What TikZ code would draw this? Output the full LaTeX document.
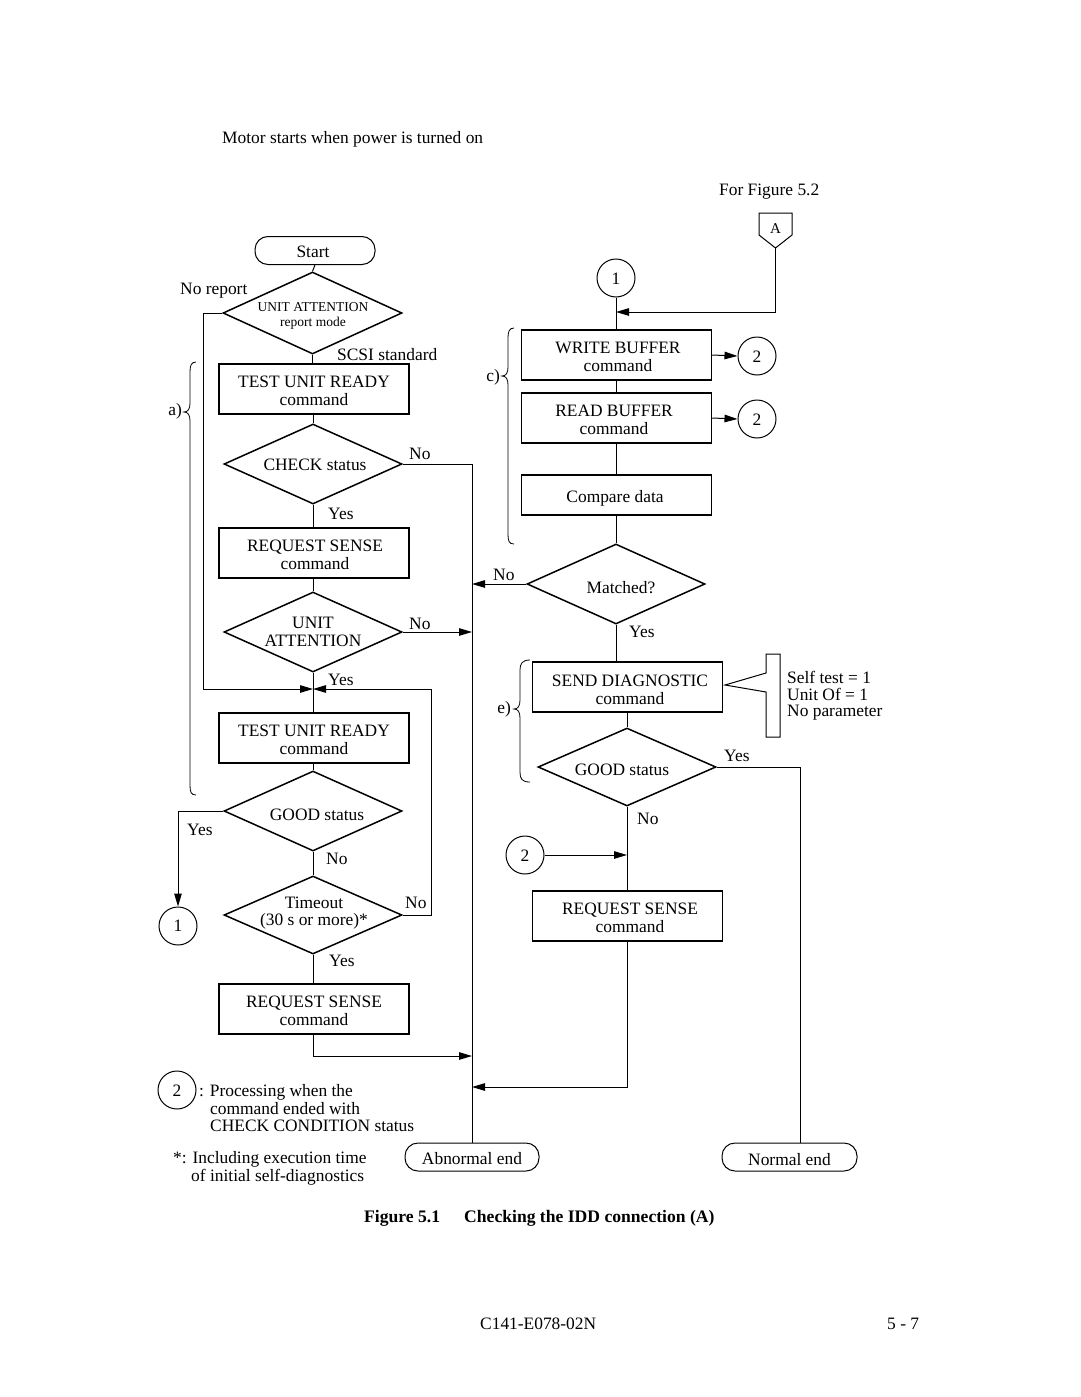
\documentclass[tikz,border=0pt]{standalone}
\usepackage{fontspec}
\setmainfont{Liberation Serif}
\usetikzlibrary{shapes.geometric,arrows.meta}
\begin{document}
\begin{tikzpicture}[x=1pt,y=-1pt,
  font=\fontsize{17.4}{17.5}\selectfont,
  box/.style={draw,line width=1.5pt,minimum width=190pt,minimum height=50pt,inner sep=0pt,align=center},
  dia/.style={draw,diamond,line width=1.5pt,minimum width=178pt,minimum height=80pt,inner sep=0pt},
  term/.style={draw,rounded corners=13pt,line width=1pt,minimum height=28pt,inner sep=0pt},
  circ/.style={draw,circle,line width=1pt,minimum size=38pt,inner sep=0pt},
  ln/.style={line width=1pt},
  brace/.style={line width=0.8pt},
  arr/.style={line width=1pt,-{Triangle[length=13pt,width=7.5pt]}},
  lab/.style={inner sep=0pt,anchor=west},
  dtext/.style={inner sep=0pt,align=center}
]
\useasboundingbox (0,0) rectangle (1080,1397);

% header texts
\node[lab] (hdr) at (222,139.5) {Motor starts when power is turned on};
\node[lab] (forfig) at (719,192) {For Figure 5.2};

% ---------- left column ----------
\node[term,minimum width=120pt] (start) at (315,250.5) {};
\node[dtext] (startt) at (313,252) {Start};
\node[dia,minimum width=179pt,minimum height=82pt] (ua) at (312.5,313) {};
\node[dtext,font=\fontsize{13.5}{14.5}\selectfont] (uat) at (313,316) {UNIT ATTENTION\\report mode};
\node[box] (tur1) at (314,389) {};
\node[dtext] (tur1t) at (314,391) {TEST UNIT READY\\command};
\node[dia] (chk) at (313,464) {};
\node[dtext] (chkt) at (315,465) {CHECK status};
\node[box] (rs1) at (314,553) {};
\node[dtext] (rs1t) at (315,555) {REQUEST SENSE\\command};
\node[dia] (ua2) at (313,632) {};
\node[dtext] (ua2t) at (313,632) {UNIT\\ATTENTION};
\coordinate (j1) at (313,689);
\node[box] (tur2) at (314,738) {};
\node[dtext] (tur2t) at (314,740) {TEST UNIT READY\\command};
\node[dia] (good1) at (313,811) {};
\node[dtext] (good1t) at (317,815) {GOOD status};
\node[dia,minimum height=78pt] (to) at (313,915) {};
\node[dtext] (tot) at (314,913) {Timeout\\(30 s or more)*};
\node[box] (rs3) at (314,1009) {};
\node[dtext] (rs3t) at (314,1011) {REQUEST SENSE\\command};
\node[circ] (c1L) at (178,926) {1};

\node[term,minimum width=134pt] (abn) at (472,1157) {};
\node[dtext] (abnt) at (472,1159) {Abnormal end};
\coordinate (cA) at (472,632);
\coordinate (cB) at (472,584);
\coordinate (cC) at (472,1056);
\coordinate (cD) at (472,1087);

% left connectors
\draw[ln] (start.south) -- (ua.north);
\draw[ln] (ua.south) -- (ua.south |- tur1.north);
\draw[arr] (ua.west) -- ++(-19,0) |- (j1);
\draw[ln] (tur1.south -| chk.north) -- (chk.north);
\draw[ln] (chk.east) -| (abn.north);
\draw[ln] (chk.south) -- (chk.south |- rs1.north);
\draw[ln] (rs1.south -| ua2.north) -- (ua2.north);
\draw[arr] (ua2.east) -- (cA);
\draw[ln] (ua2.south) -- (ua2.south |- tur2.north);
\draw[ln] (tur2.south -| good1.north) -- (good1.north);
\draw[arr] (good1.west) -| (c1L.north);
\draw[ln] (good1.south) -- (to.north);
\draw[arr] (to.east) -- ++(29,0) |- (j1);
\draw[ln] (to.south) -- (to.south |- rs3.north);
\draw[arr] (rs3.south -| to.south) |- (cC);

% left labels
\node[lab] (l1) at (180,291) {No report};
\node[lab] (l2) at (337,355) {SCSI standard};
\node[lab] (l3) at (409,454) {No};
\node[lab] (l4) at (328,514) {Yes};
\node[lab] (l5) at (409,624) {No};
\node[lab] (l6) at (328,680) {Yes};
\node[lab] (l7) at (187,830) {Yes};
\node[lab] (l8) at (326,859) {No};
\node[lab] (l9) at (405,903) {No};
\node[lab] (l10) at (329,961) {Yes};

% a) brace
\draw[brace] (196,362) .. controls (191,362) and (190,366) .. (190,372) -- (190,403)
  .. controls (190,409) and (188,412) .. (184,412)
  .. controls (188,412) and (190,415) .. (190,421) -- (190,785)
  .. controls (190,792) and (191,795) .. (196,795);
\node[inner sep=0pt,anchor=east] (la) at (182,411) {a)};

% ---------- right column ----------
\draw[ln] (759,213) -- (792,213) -- (792,235) -- (775.5,248) -- (759,235) -- cycle;
\coordinate (Atip) at (775.5,248);
\node[inner sep=0pt,font=\fontsize{15}{15}\selectfont] (At) at (775.5,229) {A};
\coordinate (j2) at (616,312);
\node[circ] (c1R) at (616,278) {};
\node[dtext] (c1Rt) at (616,279) {1};
\node[box] (wb) at (616.5,355) {};
\node[dtext] (wbt) at (618,357) {WRITE BUFFER\\command};
\node[circ] (c2a) at (757,356) {};
\node[dtext] (c2at) at (757,357) {2};
\node[box] (rb) at (616.5,418) {};
\node[dtext] (rbt) at (614,420) {READ BUFFER\\command};
\node[circ] (c2b) at (757,419) {};
\node[dtext] (c2bt) at (757,420) {2};
\node[box,minimum height=40pt] (cmp) at (616.5,495) {};
\node[dtext] (cmpt) at (615,498) {Compare data};
\node[dia] (match) at (616,584) {};
\node[dtext] (matcht) at (621,588) {Matched?};
\node[box] (sd) at (627.5,687) {};
\node[dtext] (sdt) at (630,690) {SEND DIAGNOSTIC\\command};
\node[dia,minimum height=78pt] (good2) at (627,767) {};
\node[dtext] (good2t) at (622,770) {GOOD status};
\node[circ] (c2c) at (525,855) {};
\node[dtext] (c2ct) at (525,856) {2};
\node[box] (rs2) at (627.5,916) {};
\node[dtext] (rs2t) at (630,918) {REQUEST SENSE\\command};
\node[term,minimum width=135pt] (nrm) at (789.5,1157) {};
\node[dtext] (nrmt) at (789.5,1160) {Normal end};
\coordinate (j3) at (627,855);

\draw[arr] (Atip) |- (j2);
\draw[ln] (c1R.south) -- (c1R.south |- wb.north);
\draw[arr] (wb.east) -- (c2a.west);
\draw[arr] (rb.east) -- (c2b.west);
\draw[ln] (wb.south) -- (rb.north);
\draw[ln] (rb.south) -- (cmp.north);
\draw[ln] (cmp.south -| match.north) -- (match.north);
\draw[arr] (match.west) -- (cB);
\draw[ln] (match.south) -- (match.south |- sd.north);
\draw[ln] (sd.south -| good2.north) -- (good2.north);
\draw[ln] (good2.east) -| ([xshift=10.5pt]nrm.north);
\draw[ln] (good2.south) -- (good2.south |- rs2.north);
\draw[arr] (c2c.east) -- (j3);
\draw[arr] (rs2.south) |- (cD);

% callout
\draw[ln] (766,654) -- (766,673) -- (725,685) -- (766,692) -- (766,737) -- (780,737) -- (780,654) -- cycle;
\node[lab] (s1) at (787,677) {Self test = 1};
\node[lab] (s2) at (787,694) {Unit Of = 1};
\node[lab] (s3) at (787,713) {No parameter};

% right labels
\node[lab] (r1) at (493,575) {No};
\node[lab] (r2) at (629,632) {Yes};
\node[lab] (r3) at (724,756) {Yes};
\node[lab] (r4) at (637,819) {No};

% c) brace
\draw[brace] (514,328) .. controls (509,328) and (508,332) .. (508,338) -- (508,367)
  .. controls (508,373) and (506,376) .. (502,376)
  .. controls (506,376) and (508,379) .. (508,385) -- (508,534)
  .. controls (508,541) and (509,544) .. (514,544);
\node[inner sep=0pt,anchor=east] (lc) at (500,377) {c)};
% e) brace
\draw[brace] (530,660) .. controls (522,660) and (520,664) .. (520,670) -- (520,700)
  .. controls (520,706) and (518,709) .. (514,709)
  .. controls (518,709) and (520,712) .. (520,718) -- (520,772)
  .. controls (520,779) and (522,782) .. (530,782);
\node[inner sep=0pt,anchor=east] (le) at (511,709) {e)};

% legend
\node[circ] (c2L) at (177,1090) {};
\node[dtext] (c2Lt) at (177,1091) {2};
\node[lab] (g1) at (199,1092) {: Processing when the};
\node[lab] (g2) at (210,1109) {command ended with};
\node[lab] (g3) at (210,1126) {CHECK CONDITION status};
\node[lab] (g4) at (173,1159) {*: Including execution time};
\node[lab] (g5) at (191,1177) {of initial self-diagnostics};

% caption & footer
\node[lab,font=\fontsize{17.6}{17.6}\selectfont\bfseries] (cap1) at (364,1218) {Figure 5.1};
\node[lab,font=\fontsize{17.6}{17.6}\selectfont\bfseries] (cap2) at (464,1218) {Checking the IDD connection (A)};
\node[lab] (f1) at (480,1324) {C141-E078-02N};
\node[lab] (f2) at (887,1324) {5 - 7};
\end{tikzpicture}
\end{document}
